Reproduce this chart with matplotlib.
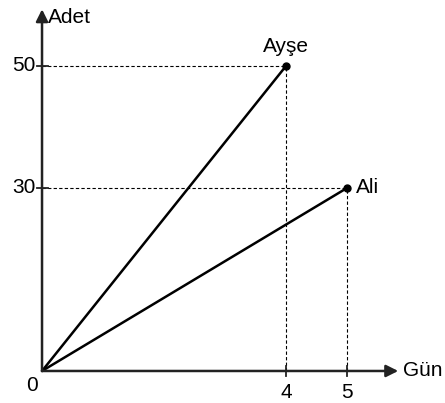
import matplotlib.pyplot as plt

plt.rcParams['font.family'] = ['Liberation Sans', 'DejaVu Sans']

names = ['Ayşe', 'Ali']
days = [4, 5]
counts = [50, 30]

fig = plt.figure(figsize=(4.45, 4.03), dpi=100)
ax = fig.add_axes([0, 0, 1, 1])
ax.set_xlim(-0.689, 6.607)
ax.set_ylim(-5.25, 60.82)
ax.axis('off')

# axes with arrows
ax.annotate('', xy=(5.84, 0), xytext=(0, 0),
            arrowprops=dict(arrowstyle='-|>', color='#222222', lw=1.8,
                            mutation_scale=18, shrinkA=0, shrinkB=0))
ax.annotate('', xy=(0, 59.3), xytext=(0, 0),
            arrowprops=dict(arrowstyle='-|>', color='#222222', lw=1.8,
                            mutation_scale=18, shrinkA=0, shrinkB=0))

fs = 15
for name, d, c in zip(names, days, counts):
    ax.plot([0, d], [0, c], color='black', lw=1.8, solid_capstyle='round')
    ax.plot([0, d], [c, c], color='black', lw=0.8, ls=(0, (3, 2)))
    ax.plot([d, d], [0, c], color='black', lw=0.8, ls=(0, (3, 2)))
    ax.plot(d, c, 'o', color='black', markersize=5)
    # ticks
    ax.plot([d, d], [-0.8, 0.8], color='#222222', lw=1.3)
    ax.plot([-0.09, 0.09], [c, c], color='#222222', lw=1.3)
    ax.text(d, -1.9, str(d), ha='center', va='top', fontsize=fs)
    ax.text(-0.1, c, str(c), ha='right', va='center', fontsize=fs)

ax.text(days[0], counts[0] + 1.6, names[0], ha='center', va='bottom', fontsize=fs)
ax.text(days[1] + 0.15, counts[1], names[1], ha='left', va='center', fontsize=fs)
ax.text(-0.16, -0.9, '0', ha='center', va='top', fontsize=fs)
ax.text(5.92, 0, 'Gün', ha='left', va='center', fontsize=fs)
ax.text(0.1, 58.0, 'Adet', ha='left', va='center', fontsize=fs)

fig.savefig('out.png', dpi=100)
